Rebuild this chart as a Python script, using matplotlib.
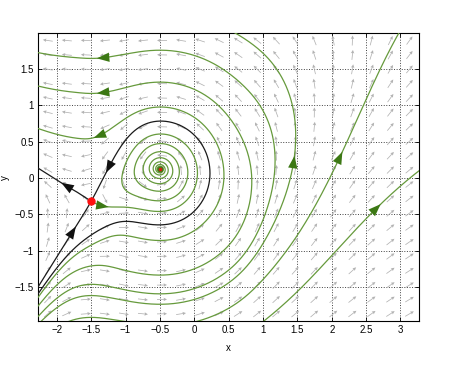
import numpy as np
import matplotlib
matplotlib.use('Agg')
import matplotlib.pyplot as plt

plt.rcParams['font.family'] = ['Liberation Sans', 'DejaVu Sans']

# window and ticks
x_lim = (-2.27, 3.27)
y_lim = (-1.97, 1.99)
x_ticks = [-2, -1.5, -1, -0.5, 0, 0.5, 1, 1.5, 2, 2.5, 3]
y_ticks = [-1.5, -1, -0.5, 0, 0.5, 1, 1.5]

# equilibria
saddle_guess = (-1.5, -0.3)
sink_guess = (-0.5, 0.12)

# field: x' = h(x) - y ,  y' = g(x) * (1 - slow(x, y)) + shear(x, h(x) - y)
h_base = -0.127
h_tilt = -0.2
h_step = 0.264
h_step_at = -1.1
h_step_w = 0.35
h_rise = 0.425
h_rise_at = 0.45
h_rise_pow = 2.4
h_dip = -0.22
h_dip_at = 0.85
h_left = -0.33
g_rate = 1.37
shear_amp = 1.05
shear_at = -1.25
shear_xw = 0.4
shear_uw = 0.8
slow_amp = 0.7

# green orbits with an arrowhead (seed = arrow position)
arrow_seed_x = [-1.36, -1.36, -1.41, 1.45, 2.13, 2.67]
arrow_seed_y = [1.65, 1.17, 0.57, 0.25, 0.31, -0.40]
# green orbits without arrowhead
plain_seed_x = [-1.5]
plain_seed_y = [-1.92]

# arrow positions on the separatrices
sep_arrow_x = [-1.87, -1.75, -1.24, -1.31]
sep_arrow_y = [-0.07, -0.72, 0.11, -0.44]

GREEN = '#669a3c'
DARKGREEN = '#3c7814'


def h(x):
    u = x - sink_guess[0]
    sp = np.log1p(np.exp(6 * (x - h_rise_at))) / 6
    spl = np.log1p(np.exp(-5 * (x + 1.7))) / 5
    return (h_base + h_tilt * u * np.exp(-(u / 0.8) ** 2)
            + h_step * np.tanh((x - h_step_at) / h_step_w) + h_rise * sp ** h_rise_pow
            + h_dip * np.exp(-((x - h_dip_at) / 0.35) ** 2) + h_left * spl)


def g(x):
    return (x - sink_guess[0]) * np.tanh(g_rate * (x - saddle_guess[0]))


def fxy(x, y):
    u = h(x) - y
    slow = slow_amp / (1 + np.exp((x + 1.62) / 0.07)) / (1 + np.exp(-(y + 0.45) / 0.12))
    sh = shear_amp * np.exp(-((x - shear_at) / shear_xw) ** 2) * u * np.exp(-(u / shear_uw) ** 4)
    return u, g(x) * (1 - slow) + sh


def field(p):
    return np.array(fxy(p[0], p[1]))


def unit(p, sgn):
    f = field(p)
    n = np.hypot(f[0], f[1])
    if n < 1e-9:
        return np.zeros(2)
    return sgn * f / n


def find_eq(p):
    p = np.array(p, float)
    e = 1e-6
    for i in range(50):
        J = np.column_stack([(field(p + [e, 0]) - field(p - [e, 0])) / (2 * e),
                             (field(p + [0, e]) - field(p - [0, e])) / (2 * e)])
        p = p - np.linalg.solve(J, field(p))
    return p, J


saddle, J_s = find_eq(saddle_guess)
sink, J_c = find_eq(sink_guess)


def trace(p0, sgn, ds=0.004, nmax=12000):
    p = np.array(p0, float)
    pts = [p.copy()]
    for i in range(nmax):
        k1 = unit(p, sgn)
        k2 = unit(p + 0.5 * ds * k1, sgn)
        k3 = unit(p + 0.5 * ds * k2, sgn)
        k4 = unit(p + ds * k3, sgn)
        p = p + ds / 6 * (k1 + 2 * k2 + 2 * k3 + k4)
        pts.append(p.copy())
        if not (x_lim[0] - 0.05 < p[0] < x_lim[1] + 0.05 and y_lim[0] - 0.05 < p[1] < y_lim[1] + 0.05):
            break
        if np.hypot(*(p - sink)) < 0.004 or np.hypot(*(p - saddle)) < 0.002:
            break
    return np.array(pts)


def orbit(p0):
    b = trace(p0, -1)[::-1]
    f = trace(p0, 1)
    return np.vstack([b, f[1:]])


def head(ax, p, color):
    d = unit(np.array(p), 1)
    d = d / np.hypot(d[0] * 68.8, d[1] * 72.6)
    ax.annotate('', xy=(p[0] + 4 * d[0], p[1] + 4 * d[1]), xytext=(p[0] - 4 * d[0], p[1] - 4 * d[1]),
                arrowprops=dict(arrowstyle='-|>,head_length=0.75,head_width=0.28',
                                color=color, lw=0, shrinkA=0, shrinkB=0, mutation_scale=12), zorder=6)


fig = plt.figure(figsize=(4.61, 3.70), dpi=100)
ax = fig.add_axes([0.083, 0.1324, 0.826, 0.7776])

# direction field
nx, ny = 20, 20
gx = x_lim[0] + (np.arange(nx) + 0.5) * (x_lim[1] - x_lim[0]) / nx
gy = y_lim[0] + (np.arange(ny) + 0.5) * (y_lim[1] - y_lim[0]) / ny
X, Y = np.meshgrid(gx, gy)
U, V = fxy(X, Y)
sx = 381 / (x_lim[1] - x_lim[0])
sy = 288 / (y_lim[1] - y_lim[0])
N = np.hypot(U * sx, V * sy)
L = 10.0
ax.quiver(X, Y, L * U / N, L * V / N, angles='xy', scale_units='xy', scale=1,
          pivot='middle', color='#b2b2b2', width=0.002, headwidth=4.5,
          headlength=4.5, headaxislength=4, zorder=2)

# green orbits
for px, py in zip(arrow_seed_x, arrow_seed_y):
    o = orbit((px, py))
    ax.plot(o[:, 0], o[:, 1], color=GREEN, lw=0.9, zorder=3)
    head(ax, (px, py), DARKGREEN)
for px, py in zip(plain_seed_x, plain_seed_y):
    o = orbit((px, py))
    ax.plot(o[:, 0], o[:, 1], color=GREEN, lw=0.9, zorder=3)

# separatrices of the saddle
w, vecs = np.linalg.eig(J_s)
vu = vecs[:, np.argmax(w)]
vs = vecs[:, np.argmin(w)]
eps = 2e-3
left_u = trace(saddle - eps * vu * np.sign(vu[0]), 1)
right_u = trace(saddle + eps * vu * np.sign(vu[0]), 1)
low_s = trace(saddle - eps * vs * np.sign(vs[0]), -1)
up_s = trace(saddle + eps * vs * np.sign(vs[0]), -1)
for c in (left_u, low_s, up_s):
    ax.plot(c[:, 0], c[:, 1], color='#1a1a1a', lw=0.9, zorder=4)
ax.plot(right_u[:, 0], right_u[:, 1], color=GREEN, lw=0.9, zorder=4)
for (px, py), c, col in zip(zip(sep_arrow_x, sep_arrow_y), (left_u, low_s, up_s, right_u),
                            ('#111111', '#111111', '#111111', DARKGREEN)):
    k = np.argmin(np.hypot(c[:, 0] - px, c[:, 1] - py))
    head(ax, c[k], col)

ax.plot(*saddle, 'o', color='#ff1010', ms=5, zorder=7)
ax.plot(*sink, 'o', color='#d02010', ms=3.5, zorder=7, mec=DARKGREEN, mew=0.8)

ax.set_xlim(*x_lim)
ax.set_ylim(*y_lim)
ax.set_xticks(x_ticks)
ax.set_yticks(y_ticks)
ax.set_xticklabels([('%g' % t).replace('-', '\u2212') for t in x_ticks])
ax.set_yticklabels([('%g' % t).replace('-', '\u2212') for t in y_ticks])
ax.grid(True, linestyle=':', color='#404040', lw=0.7)
ax.tick_params(direction='in', length=3, labelsize=7, top=True, right=True, width=0.6, pad=3)
for s in ax.spines.values():
    s.set_linewidth(0.8)
ax.set_xlabel('x', fontsize=7)
ax.set_ylabel('y', fontsize=7)
ax.xaxis.set_label_coords(0.5, -0.075)
ax.yaxis.set_label_coords(-0.075, 0.5)

fig.savefig('out.png', dpi=100)
